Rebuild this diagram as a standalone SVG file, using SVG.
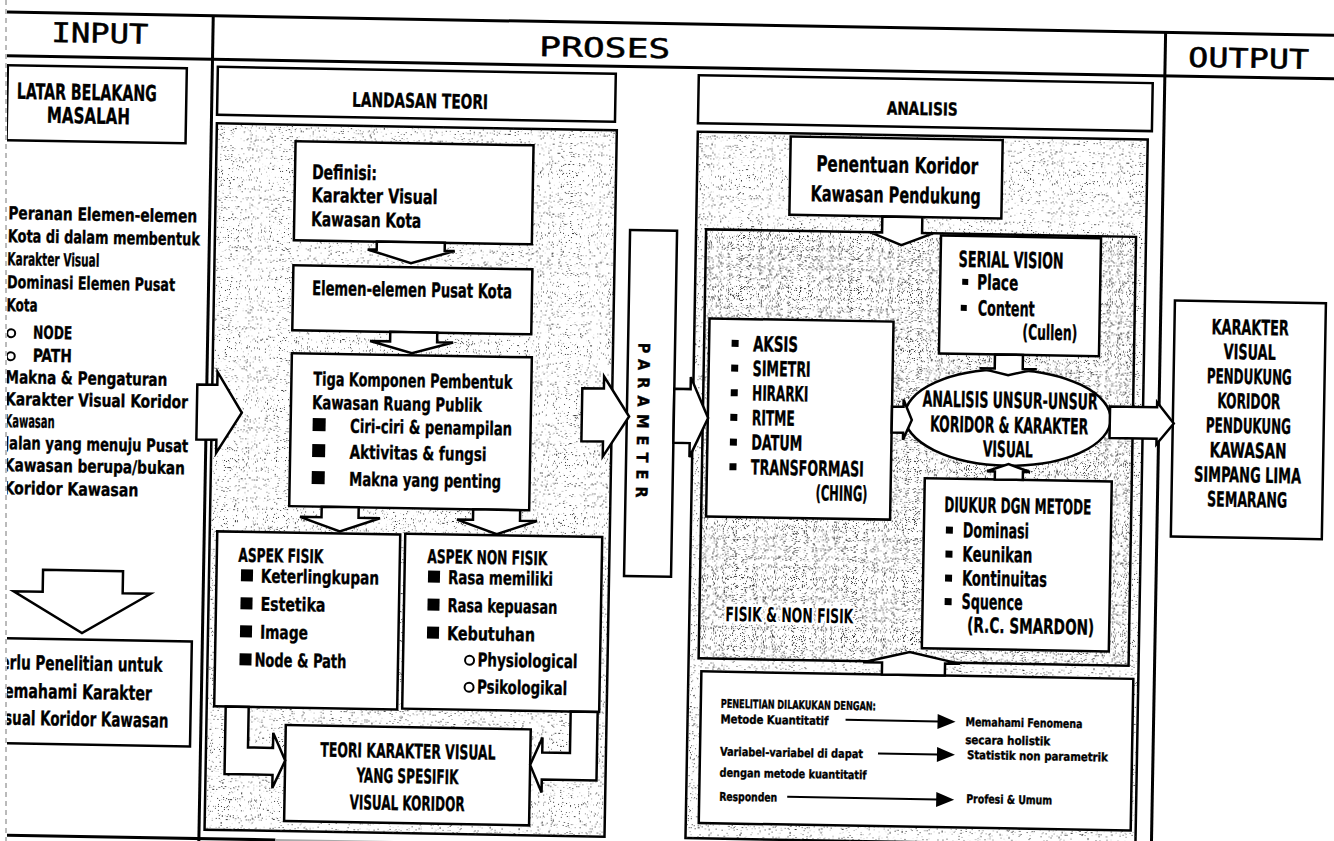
<svg xmlns="http://www.w3.org/2000/svg" width="1334" height="841" viewBox="0 0 1334 841">
<defs>
<style>
.bx{fill:#fff;stroke:#000;stroke-width:2.5}
.rg{fill:#fff;stroke:#000;stroke-width:2.5}
.ln{fill:none;stroke:#000;stroke-width:3}
.ar{fill:#fff;stroke:#000;stroke-width:2.5;stroke-linejoin:miter}
.t{font-family:'Liberation Sans Narrow','DejaVu Sans Condensed','Liberation Sans',sans-serif;font-weight:700;fill:#000;stroke:#000;stroke-width:0.35}
.hd{font-family:'DejaVu Sans Mono','Liberation Mono',monospace;font-size:27px;fill:#000;stroke:#000;stroke-width:0.5}
.s12{font-size:12px}.s16{font-size:16px}.s18{font-size:18px}.s19{font-size:19px}.s20{font-size:20px}.s21{font-size:21px}.s22{font-size:22px}
.m{text-anchor:middle}
.halo{stroke:#fff;stroke-width:6;paint-order:stroke;stroke-linejoin:round}
.bl{fill:#000}
.ci{fill:#fff;stroke:#000;stroke-width:2}
.sl{stroke:#000;stroke-width:2}
</style>
<filter id="dots" x="0" y="0" width="1" height="1" color-interpolation-filters="sRGB">
<feTurbulence type="fractalNoise" baseFrequency="0.9" numOctaves="2" seed="5" result="n"/>
<feColorMatrix in="n" type="matrix" values="0 0 0 0 0.2 0 0 0 0 0.2 0 0 0 0 0.2 14 0 0 0 -9.4" result="d"/>
<feComposite in="d" in2="SourceAlpha" operator="in"/>
</filter>
<filter id="dots2" x="0" y="0" width="1" height="1" color-interpolation-filters="sRGB">
<feTurbulence type="fractalNoise" baseFrequency="0.9" numOctaves="2" seed="9" result="n"/>
<feColorMatrix in="n" type="matrix" values="0 0 0 0 0.2 0 0 0 0 0.2 0 0 0 0 0.2 14 0 0 0 -9.0" result="d"/>
<feComposite in="d" in2="SourceAlpha" operator="in"/>
</filter>
<clipPath id="page"><rect x="7" y="0" width="1327" height="841"/></clipPath>
</defs>
<rect width="1334" height="841" fill="#fff"/>
<line x1="6" y1="0" x2="6" y2="841" stroke="#777" stroke-width="1" stroke-dasharray="5 4"/>
<g clip-path="url(#page)">
<g transform="rotate(1)">

<g id="frame">
<line class="ln" x1="-20" y1="12" x2="1360" y2="12"/>
<line class="ln" x1="-20" y1="55.5" x2="1360" y2="55.5"/>
<line class="ln" x1="213.5" y1="12" x2="213.5" y2="850"/>
<line class="ln" x1="1166" y1="12" x2="1166" y2="850"/>
<line class="ln" x1="-20" y1="835" x2="290" y2="835"/>
<line x1="290" y1="835" x2="700" y2="835" stroke="#aaa" stroke-width="2"/>
</g>

<g id="hdr-input"><text class="hd" x="52" y="41" textLength="97" lengthAdjust="spacingAndGlyphs">INPUT</text></g>
<g id="hdr-proses"><text class="hd" x="540" y="46.5" textLength="131" lengthAdjust="spacingAndGlyphs">PROSES</text></g>
<g id="hdr-output"><text class="hd" x="1189" y="46" textLength="121" lengthAdjust="spacingAndGlyphs">OUTPUT</text></g>

<g id="region-landasan">
<rect class="rg" x="219" y="119.5" width="400" height="706.5"/>
<rect x="219" y="119.5" width="400" height="706.5" fill="#000" filter="url(#dots)"/>
</g>
<g id="region-analisis">
<rect class="rg" x="700" y="119.5" width="450" height="706.5"/>
<rect x="700" y="119.5" width="450" height="706.5" fill="#000" filter="url(#dots)"/>
<rect x="710" y="217" width="430" height="429" fill="#000" filter="url(#dots2)"/>
<rect x="710" y="217" width="430" height="429" fill="none" stroke="#000" stroke-width="2.5"/>
</g>

<g id="n-latar">
<rect class="bx" x="9" y="65" width="179" height="75"/>
<text class="t s22 m" x="88.5" y="98.5" textLength="140" lengthAdjust="spacingAndGlyphs">LATAR BELAKANG</text>
<text class="t s22 m" x="90.5" y="122" textLength="83" lengthAdjust="spacingAndGlyphs">MASALAH</text>
</g>

<g id="n-input-desc">
<text class="t s18" x="12" y="219" textLength="189" lengthAdjust="spacingAndGlyphs">Peranan Elemen-elemen</text>
<text class="t s18" x="12" y="242" textLength="192" lengthAdjust="spacingAndGlyphs">Kota di dalam membentuk</text>
<text class="t s18" x="12" y="265" textLength="92" lengthAdjust="spacingAndGlyphs">Karakter Visual</text>
<text class="t s18" x="12" y="288" textLength="168" lengthAdjust="spacingAndGlyphs">Dominasi Elemen Pusat</text>
<text class="t s18" x="12" y="311" textLength="31" lengthAdjust="spacingAndGlyphs">Kota</text>
<circle class="ci" cx="17" cy="333" r="4"/>
<text class="t s18" x="39" y="338" textLength="39" lengthAdjust="spacingAndGlyphs">NODE</text>
<circle class="ci" cx="17" cy="356" r="4"/>
<text class="t s18" x="39" y="361" textLength="39" lengthAdjust="spacingAndGlyphs">PATH</text>
<text class="t s18" x="12" y="383" textLength="162" lengthAdjust="spacingAndGlyphs">Makna &amp; Pengaturan</text>
<text class="t s18" x="12" y="405" textLength="183" lengthAdjust="spacingAndGlyphs">Karakter Visual Koridor</text>
<text class="t s18" x="12" y="427" textLength="50" lengthAdjust="spacingAndGlyphs">Kawasan</text>
<text class="t s18" x="12" y="449" textLength="184" lengthAdjust="spacingAndGlyphs">Jalan yang menuju Pusat</text>
<text class="t s18" x="12" y="471" textLength="181" lengthAdjust="spacingAndGlyphs">Kawasan berupa/bukan</text>
<text class="t s18" x="12" y="494" textLength="135" lengthAdjust="spacingAndGlyphs">Koridor Kawasan</text>
</g>

<g id="n-perlu">
<rect class="bx" x="-5" y="638" width="208" height="105"/>
<text class="t s20" x="2" y="669" textLength="172" lengthAdjust="spacingAndGlyphs">Perlu Penelitian untuk</text>
<text class="t s20" x="2" y="697.5" textLength="162" lengthAdjust="spacingAndGlyphs">Memahami Karakter</text>
<text class="t s20" x="2" y="724.5" textLength="179" lengthAdjust="spacingAndGlyphs">Visual Koridor Kawasan</text>
</g>

<g id="n-landasan">
<rect class="bx" x="219" y="63" width="398" height="48"/>
<text class="t s20 m" x="421.8" y="100.5" textLength="136" lengthAdjust="spacingAndGlyphs">LANDASAN TEORI</text>
</g>

<g id="n-definisi">
<rect class="bx" x="298" y="136" width="238" height="99"/>
<text class="t s20" x="315" y="173.5" textLength="65" lengthAdjust="spacingAndGlyphs">Definisi:</text>
<text class="t s20" x="315" y="196.5" textLength="126" lengthAdjust="spacingAndGlyphs">Karakter Visual</text>
<text class="t s20" x="315" y="220.5" textLength="110" lengthAdjust="spacingAndGlyphs">Kawasan Kota</text>
</g>

<g id="n-elemen">
<rect class="bx" x="298" y="260" width="239" height="65"/>
<text class="t s20" x="317" y="289.5" textLength="200" lengthAdjust="spacingAndGlyphs">Elemen-elemen Pusat Kota</text>
</g>

<g id="n-tiga">
<rect class="bx" x="298" y="348" width="240" height="153"/>
<text class="t s19" x="320" y="380" textLength="199" lengthAdjust="spacingAndGlyphs">Tiga Komponen Pembentuk</text>
<text class="t s19" x="319" y="403.5" textLength="170" lengthAdjust="spacingAndGlyphs">Kawasan Ruang Publik</text>
<rect class="bl" x="320" y="412.5" width="13" height="13"/>
<text class="t s19" x="357.5" y="426.5" textLength="162" lengthAdjust="spacingAndGlyphs">Ciri-ciri &amp; penampilan</text>
<rect class="bl" x="320" y="438.5" width="13" height="13"/>
<text class="t s19" x="357.5" y="452.5" textLength="137" lengthAdjust="spacingAndGlyphs">Aktivitas &amp; fungsi</text>
<rect class="bl" x="320" y="465.5" width="13" height="13"/>
<text class="t s19" x="357.5" y="479.5" textLength="152" lengthAdjust="spacingAndGlyphs">Makna yang penting</text>
</g>

<g id="n-fisik">
<rect class="bx" x="226.5" y="527.5" width="183" height="175"/>
<text class="t s19" x="248" y="557.5" textLength="85" lengthAdjust="spacingAndGlyphs">ASPEK FISIK</text>
<rect class="bl" x="251" y="565" width="12" height="12"/>
<text class="t s19" x="271" y="578" textLength="118" lengthAdjust="spacingAndGlyphs">Keterlingkupan</text>
<rect class="bl" x="251" y="593" width="12" height="12"/>
<text class="t s19" x="271" y="606" textLength="65" lengthAdjust="spacingAndGlyphs">Estetika</text>
<rect class="bl" x="251" y="621" width="12" height="12"/>
<text class="t s19" x="271" y="634" textLength="48" lengthAdjust="spacingAndGlyphs">Image</text>
<rect class="bl" x="251" y="649" width="12" height="12"/>
<text class="t s19" x="266" y="662" textLength="92" lengthAdjust="spacingAndGlyphs">Node &amp; Path</text>
</g>

<g id="n-nonfisik">
<rect class="bx" x="414.5" y="526.5" width="197" height="175"/>
<text class="t s19" x="437" y="555.5" textLength="120" lengthAdjust="spacingAndGlyphs">ASPEK NON FISIK</text>
<rect class="bl" x="438" y="563" width="12" height="12"/>
<text class="t s19" x="458" y="576" textLength="105" lengthAdjust="spacingAndGlyphs">Rasa memiliki</text>
<rect class="bl" x="438" y="591" width="12" height="12"/>
<text class="t s19" x="458" y="604" textLength="110" lengthAdjust="spacingAndGlyphs">Rasa kepuasan</text>
<rect class="bl" x="438" y="619" width="12" height="12"/>
<text class="t s19" x="458" y="632" textLength="88" lengthAdjust="spacingAndGlyphs">Kebutuhan</text>
<circle class="ci" cx="481" cy="652" r="4.5"/>
<text class="t s19" x="489" y="658" textLength="100" lengthAdjust="spacingAndGlyphs">Physiological</text>
<circle class="ci" cx="481" cy="679" r="4.5"/>
<text class="t s19" x="489" y="685" textLength="90" lengthAdjust="spacingAndGlyphs">Psikologikal</text>
</g>

<g id="n-teori">
<rect class="bx" x="298.4" y="720" width="245" height="96"/>
<text class="t s20 m" x="421" y="751" textLength="175" lengthAdjust="spacingAndGlyphs">TEORI KARAKTER VISUAL</text>
<text class="t s20 m" x="421" y="776" textLength="102" lengthAdjust="spacingAndGlyphs">YANG SPESIFIK</text>
<text class="t s20 m" x="421" y="803" textLength="115" lengthAdjust="spacingAndGlyphs">VISUAL KORIDOR</text>
</g>

<g id="n-parameter">
<rect class="bx" x="634" y="219" width="47" height="346"/>
<text class="t s16 m" transform="translate(650 409) rotate(90)" dy="5.5" textLength="155" lengthAdjust="spacing">PARAMETER</text>
</g>

<g id="n-analisis">
<rect class="bx" x="700" y="63" width="454" height="48"/>
<text class="t s18 m" x="924" y="99" textLength="71" lengthAdjust="spacingAndGlyphs">ANALISIS</text>
</g>

<g id="n-penentuan">
<rect class="bx" x="793" y="122.6" width="212" height="78.4"/>
<text class="t s22 m" x="900" y="157" textLength="162" lengthAdjust="spacingAndGlyphs">Penentuan Koridor</text>
<text class="t s22 m" x="899" y="187" textLength="170" lengthAdjust="spacingAndGlyphs">Kawasan Pendukung</text>
</g>

<g id="n-serial">
<rect class="bx" x="945" y="219" width="160" height="118"/>
<text class="t s22" x="963" y="250" textLength="105" lengthAdjust="spacingAndGlyphs">SERIAL VISION</text>
<rect class="bl" x="967" y="262" width="6" height="6"/>
<text class="t s21" x="982" y="272.5" textLength="41" lengthAdjust="spacingAndGlyphs">Place</text>
<rect class="bl" x="966" y="288" width="6" height="6"/>
<text class="t s21" x="983" y="298.3" textLength="57" lengthAdjust="spacingAndGlyphs">Content</text>
<text class="t s21" x="1028" y="321.5" textLength="55" lengthAdjust="spacingAndGlyphs">(Cullen)</text>
</g>

<g id="n-aksis">
<rect class="bx" x="715" y="306" width="184" height="198"/>
<rect class="bl" x="737.5" y="327" width="7" height="7"/>
<text class="t s21" x="759" y="338" textLength="45" lengthAdjust="spacingAndGlyphs">AKSIS</text>
<rect class="bl" x="737.5" y="351.7" width="7" height="7"/>
<text class="t s21" x="759" y="362.7" textLength="58" lengthAdjust="spacingAndGlyphs">SIMETRI</text>
<rect class="bl" x="737.5" y="376.4" width="7" height="7"/>
<text class="t s21" x="759" y="387.4" textLength="56" lengthAdjust="spacingAndGlyphs">HIRARKI</text>
<rect class="bl" x="737.5" y="401" width="7" height="7"/>
<text class="t s21" x="759" y="412" textLength="43" lengthAdjust="spacingAndGlyphs">RITME</text>
<rect class="bl" x="737.5" y="425.7" width="7" height="7"/>
<text class="t s21" x="759" y="436.7" textLength="51" lengthAdjust="spacingAndGlyphs">DATUM</text>
<rect class="bl" x="737.5" y="450.4" width="7" height="7"/>
<text class="t s21" x="759" y="461.4" textLength="113" lengthAdjust="spacingAndGlyphs">TRANSFORMASI</text>
<text class="t s21" x="824" y="486" textLength="52" lengthAdjust="spacingAndGlyphs">(CHING)</text>
</g>

<g id="n-unsur">
<ellipse class="bx" cx="1014.8" cy="400" rx="103" ry="48"/>
<text class="t s22 m" x="1017" y="390.3" textLength="175" lengthAdjust="spacingAndGlyphs">ANALISIS UNSUR-UNSUR</text>
<text class="t s22 m" x="1016.5" y="415.3" textLength="158" lengthAdjust="spacingAndGlyphs">KORIDOR &amp; KARAKTER</text>
<text class="t s22 m" x="1015.5" y="439.3" textLength="50" lengthAdjust="spacingAndGlyphs">VISUAL</text>
</g>

<g id="n-diukur">
<rect class="bx" x="933" y="462" width="187" height="170"/>
<text class="t s21" x="953" y="495.5" textLength="147" lengthAdjust="spacingAndGlyphs">DIUKUR DGN METODE</text>
<rect class="bl" x="955" y="510" width="7" height="7"/>
<text class="t s21" x="972" y="520.5" textLength="66" lengthAdjust="spacingAndGlyphs">Dominasi</text>
<rect class="bl" x="955" y="534" width="7" height="7"/>
<text class="t s21" x="972" y="544.5" textLength="70" lengthAdjust="spacingAndGlyphs">Keunikan</text>
<rect class="bl" x="955" y="558" width="7" height="7"/>
<text class="t s21" x="972" y="568.5" textLength="85" lengthAdjust="spacingAndGlyphs">Kontinuitas</text>
<rect class="bl" x="955" y="581.5" width="7" height="7"/>
<text class="t s21" x="972" y="592" textLength="61" lengthAdjust="spacingAndGlyphs">Squence</text>
<text class="t s21" x="978" y="615.5" textLength="127" lengthAdjust="spacingAndGlyphs">(R.C. SMARDON)</text>
</g>

<g id="n-fisik-label">
<text class="t s20 halo" x="736" y="608.4" textLength="128" lengthAdjust="spacingAndGlyphs">FISIK &amp; NON FISIK</text>
</g>

<g id="n-penelitian">
<rect class="bx" x="713" y="659" width="432" height="151.7"/>
<text class="t s12" x="733" y="695" textLength="155" lengthAdjust="spacingAndGlyphs">PENELITIAN DILAKUKAN DENGAN:</text>
<text class="t s12" x="733" y="710.5" textLength="108" lengthAdjust="spacingAndGlyphs">Metode Kuantitatif</text>
<text class="t s12" x="978" y="709" textLength="117" lengthAdjust="spacingAndGlyphs">Memahami Fenomena</text>
<text class="t s12" x="978" y="727" textLength="85" lengthAdjust="spacingAndGlyphs">secara holistik</text>
<text class="t s12" x="733" y="743" textLength="143" lengthAdjust="spacingAndGlyphs">Variabel-variabel di dapat</text>
<text class="t s12" x="980" y="742" textLength="141" lengthAdjust="spacingAndGlyphs">Statistik non parametrik</text>
<text class="t s12" x="733" y="764" textLength="147" lengthAdjust="spacingAndGlyphs">dengan metode kuantitatif</text>
<text class="t s12" x="733" y="788" textLength="58" lengthAdjust="spacingAndGlyphs">Responden</text>
<text class="t s12" x="980" y="786" textLength="86" lengthAdjust="spacingAndGlyphs">Profesi &amp; Umum</text>
</g>

<g id="n-karakter">
<rect class="bx" x="1180" y="280" width="151" height="236"/>
<text class="t s21 m" x="1255.7" y="313" textLength="77" lengthAdjust="spacingAndGlyphs">KARAKTER</text>
<text class="t s21 m" x="1255.7" y="337.6" textLength="52" lengthAdjust="spacingAndGlyphs">VISUAL</text>
<text class="t s21 m" x="1255.7" y="362.2" textLength="85" lengthAdjust="spacingAndGlyphs">PENDUKUNG</text>
<text class="t s21 m" x="1255.7" y="386.8" textLength="63" lengthAdjust="spacingAndGlyphs">KORIDOR</text>
<text class="t s21 m" x="1255.7" y="411.4" textLength="85" lengthAdjust="spacingAndGlyphs">PENDUKUNG</text>
<text class="t s21 m" x="1255.7" y="436" textLength="77" lengthAdjust="spacingAndGlyphs">KAWASAN</text>
<text class="t s21 m" x="1255.7" y="460.6" textLength="107" lengthAdjust="spacingAndGlyphs">SIMPANG LIMA</text>
<text class="t s21 m" x="1255.7" y="485.2" textLength="80" lengthAdjust="spacingAndGlyphs">SEMARANG</text>
</g>

<g id="connectors">
<polygon class="ar" points="204,381 224,381 224,368 249,408.5 224,449 224,436 204,436"/>
<polygon class="ar" points="53,569 133,569 133,591 161,591 93,631.5 24,591 53,591"/>
<polygon class="ar" points="381,235 449,235 449,243 459,243 415.5,256 372,243 381,243"/>
<polygon class="ar" points="396,325 443,325 443,334.5 459,334.5 418,346 376,334.5 396,334.5"/>
<polygon class="ar" points="330.5,501 367.5,501 367.5,511.5 389,511.5 349,525.5 309,511.5 330.5,511.5"/>
<polygon class="ar" points="482,501 529,501 529,511.5 546,511.5 506,525.5 466,511.5 482,511.5"/>
<polygon class="ar" points="238,702.5 238,770 286,770 286,783 298.4,755.5 286,728 286,743 261,743 261,702.5"/>
<polygon class="ar" points="610,701.5 610,770 555.3,770 555.3,783 543.4,755.5 555.3,728 555.3,743 583,743 583,701.5"/>
<polygon class="ar" points="589,378 610.6,378 610.6,366 636.3,405.5 610.6,446 610.6,431 589,431"/>
<polygon class="ar" points="681,377 697.3,377 697.3,365 715.3,405.5 697.3,445 697.3,431 681,431"/>
<polygon class="ar" points="886,201 926,201 926,217 937,217 905.5,229.5 874,217 886,217"/>
<polygon class="ar" points="1001,337 1029,337 1029,351 1043,351 1014.5,357.5 986,351 1001,351"/>
<polygon class="ar" points="899,391 910.5,391 910.5,384 919,404 910.5,424 910.5,417 899,417"/>
<polygon class="ar" points="1003,462 1031,462 1031,454 1038,454 1016.5,446.5 995,454 1003,454"/>
<polygon class="ar" points="893.5,659 893.5,647 874.5,647 921,636 971.5,647 956.5,647 956.5,659"/>
<polygon class="ar" points="1117,387 1164,387 1164,382 1181,403 1164,424 1164,418.5 1117,418.5"/>
<line class="sl" x1="858" y1="705" x2="951" y2="705"/>
<polygon class="bl" points="950,697.5 968,705 950,712.5"/>
<line class="sl" x1="891" y1="738" x2="951" y2="738"/>
<polygon class="bl" points="950,730.5 968,738 950,745.5"/>
<line class="sl" x1="801" y1="783" x2="951" y2="783"/>
<polygon class="bl" points="950,775.5 968,783 950,790.5"/>
</g>

</g>
</g>
</svg>
